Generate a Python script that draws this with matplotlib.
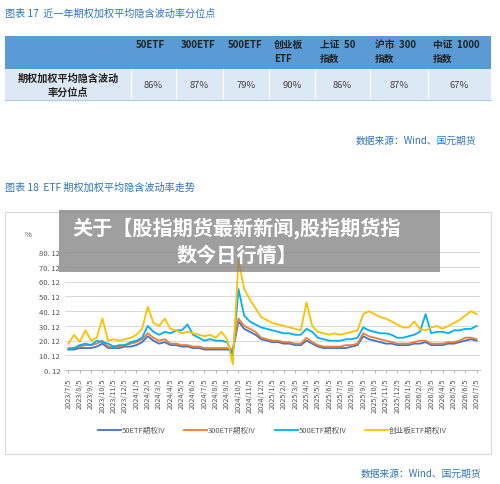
import matplotlib.pyplot as plt
from matplotlib.patches import Rectangle

plt.rcParams['font.family'] = ['Noto Sans CJK SC', 'DejaVu Sans']

W, H = 500, 485

# ---- table data
col_heads = ["50ETF", "300ETF", "500ETF", "创业板\nETF", "上证  50\n指数", "沪市  300\n指数", "中证  1000\n指数"]
row_head = "期权加权平均隐含波动\n率分位点"
row_vals = ["86%", "87%", "79%", "90%", "86%", "87%", "67%"]

# ---- series (half-month points, 2023/7/5 .. 2026/7/5)
iv_50 = [14, 14, 15, 15, 15, 16, 18, 15, 15, 15, 16, 16, 17, 19, 23, 20,
         18, 19, 17, 17, 16, 16, 15, 15, 14, 14, 14, 14, 14, 13, 33, 28,
         26, 24, 21, 20, 19, 19, 18, 18, 17, 17, 20, 18, 16, 15, 15, 15,
         15, 15, 16, 17, 23, 21, 20, 19, 18, 18, 17, 17, 17, 18, 18, 19,
         17, 17, 17, 18, 18, 19, 20, 21, 20]
iv_300 = [15, 15, 16, 17, 17, 18, 20, 16, 16, 16, 17, 18, 19, 21, 25, 22,
          20, 21, 18, 18, 17, 17, 16, 16, 15, 15, 15, 15, 15, 14, 35, 30,
          28, 26, 22, 21, 20, 20, 19, 19, 18, 18, 22, 19, 17, 16, 16, 16,
          16, 17, 17, 18, 25, 23, 22, 21, 20, 19, 18, 18, 18, 19, 20, 20,
          18, 18, 18, 19, 19, 20, 22, 22, 21]
iv_500 = [14, 15, 17, 18, 17, 20, 19, 18, 16, 17, 17, 19, 20, 22, 30, 26,
          24, 26, 25, 27, 27, 31, 24, 22, 20, 21, 20, 20, 19, 10, 55, 37,
          33, 31, 29, 28, 27, 26, 25, 25, 24, 24, 28, 26, 22, 21, 20, 20,
          20, 21, 21, 22, 29, 27, 26, 25, 25, 24, 22, 22, 23, 24, 26, 38,
          25, 26, 26, 25, 27, 27, 28, 28, 30]
iv_cyb = [18, 24, 19, 27, 20, 22, 35, 20, 21, 20, 21, 22, 24, 28, 43, 32,
          30, 35, 28, 27, 25, 26, 25, 24, 23, 24, 22, 26, 21, 4, 75, 55,
          48, 42, 36, 34, 32, 31, 30, 29, 28, 27, 46, 30, 26, 25, 24, 25,
          24, 25, 26, 27, 38, 40, 38, 36, 35, 33, 31, 29, 29, 33, 28, 27,
          29, 30, 28, 30, 32, 34, 37, 40, 38]

x_labels = [f"{2023 + (6 + m) // 12}/{(6 + m) % 12 + 1}/5" for m in range(37)]
y_ticks = [0.12 + 10 * k for k in range(9)]
y_labels = [f"{v:.2f}".replace(".", ". ") for v in y_ticks]

legend_names = ["50ETF期权IV", "300ETF期权IV", "500ETF期权IV", "创业板ETF期权IV"]
colors = ["#4472c4", "#ed7d31", "#00b0f0", "#ffc000"]

fig = plt.figure(figsize=(5.0, 4.85), dpi=100)

# background pixel axes
bg = fig.add_axes([0, 0, 1, 1], zorder=0)
bg.set_xlim(0, W); bg.set_ylim(H, 0); bg.axis("off")

blue_t = "#2e75b6"
bg.text(5, 14, "图表 17  近一年期权加权平均隐含波动率分位点", color=blue_t, fontsize=7.3, va="center")
bounds = [5, 131, 176, 223, 269, 315, 370, 428, 491]
bg.add_patch(Rectangle((5, 37), 486, 33, fc="#5b9bd5", ec="none"))
bg.add_patch(Rectangle((5, 70), 486, 31, fc="#dde8f5", ec="none"))
for b in bounds[1:-1]:
    bg.plot([b, b], [70, 101], color="white", lw=0.8)
bg.plot([5, 491], [101, 101], color="#b4cbe6", lw=0.8)
for i, h in enumerate(col_heads):
    bg.text(bounds[i + 1] + 5, 40, h, fontsize=7, fontweight="bold", va="top",
            ha="left", color="#222222", linespacing=1.5)
    bg.text((bounds[i + 1] + bounds[i + 2]) / 2, 86, row_vals[i], fontsize=6.8,
            ha="center", va="center", color="#444444")
bg.text(68, 86, row_head, fontsize=7.3, fontweight="bold", ha="center", va="center",
        color="#222222", linespacing=1.5)
bg.text(476, 141, "数据来源：Wind、国元期货", color=blue_t, fontsize=7, ha="right", va="center")
bg.text(5, 188, "图表 18  ETF 期权加权平均隐含波动率走势", color=blue_t, fontsize=7.3, va="center")
bg.add_patch(Rectangle((5, 213), 486, 242, fc="white", ec="#d9d9d9", lw=0.8))
bg.text(28, 235, "%", fontsize=5.5, color="#555555", ha="center", va="center")
bg.text(481, 474, "数据来源：Wind、国元期货", color=blue_t, fontsize=7, ha="right", va="center")

# chart
ax = fig.add_axes([65 / W, 1 - 371 / H, 415 / W, (371 - 253) / H], zorder=2)
xs = [i / 2 for i in range(len(iv_50))]
for s, c, n in zip([iv_50, iv_300, iv_500, iv_cyb], colors, legend_names):
    ax.plot(xs, s, color=c, lw=1.3, label=n)
ax.set_ylim(0.12, 80.12)
ax.set_xlim(-0.3, 36.3)
ax.set_yticks(y_ticks, y_labels, fontsize=5.5, color="#555555")
ax.set_xticks(range(37), x_labels, rotation=90, fontsize=5.3, color="#555555")
ax.grid(axis="y", color="#d9d9d9", lw=0.7)
ax.tick_params(axis="y", length=0)
ax.tick_params(axis="x", length=2, color="#bfbfbf")
for sp in ["top", "right", "left"]:
    ax.spines[sp].set_visible(False)
ax.spines["bottom"].set_color("#bfbfbf")
ax.set_axisbelow(True)
ax.legend(loc="center", bbox_to_anchor=(0.5, -0.51), ncol=4, frameon=False,
          fontsize=5.5, handlelength=3, columnspacing=2.5, handletextpad=0.1,
          labelcolor="#555555")

# overlay banner
ov = fig.add_axes([0, 0, 1, 1], zorder=10)
ov.set_xlim(0, W); ov.set_ylim(H, 0); ov.axis("off")
ov.add_patch(Rectangle((59, 211), 381, 62, fc="#7f7f7f", ec="none", alpha=0.75))
ov.text(237, 228, "关于【股指期货最新新闻,股指期货指", color="white", fontsize=14.5,
        fontweight="bold", ha="center", va="center")
ov.text(237, 255, "数今日行情】", color="white", fontsize=14.5,
        fontweight="bold", ha="center", va="center")

fig.savefig("out.png", dpi=100)
